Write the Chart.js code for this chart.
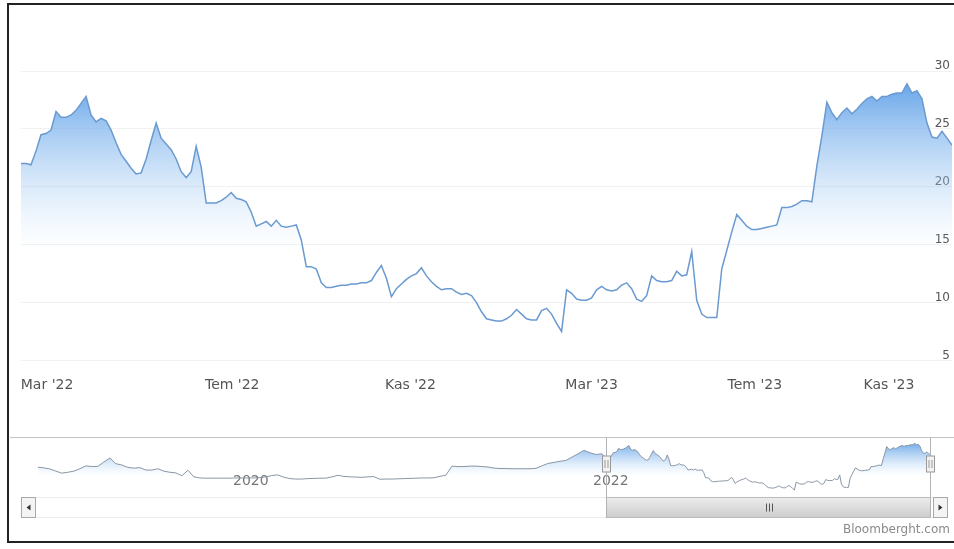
<!DOCTYPE html>
<html>
<head>
<meta charset="utf-8">
<script src="https://cdn.jsdelivr.net/npm/chart.js@4.4.0/dist/chart.umd.min.js"></script>
<style>
html, body { margin: 0; padding: 0; background: #fff; }
body { width: 954px; height: 549px; position: relative; overflow: hidden; font-family: 'DejaVu Sans', sans-serif; }
#frame { position: absolute; left: 7px; top: 3px; width: 960px; height: 536px; border: 2px solid #222; border-right: none; }
#main { position: absolute; left: 0; top: 50px; }
#nav { position: absolute; left: 0; top: 430px; }
#credit { position: absolute; right: 4px; top: 522px; font-size: 12px; color: #8a8a8a; }
</style>
</head>
<body>
<div id="frame"></div>
<canvas id="main" width="954" height="360"></canvas>
<canvas id="nav" width="954" height="119"></canvas>
<div id="credit">Bloomberght.com</div>
<script>
// selected range, sampled evenly (Mar '22 .. Dec '23)
var mainValues = [
  22.0, 22.0, 21.9, 23.1, 24.5, 24.6, 24.9, 26.5, 26.0, 26.0,
  26.2, 26.6, 27.2, 27.8, 26.2, 25.6, 25.9, 25.7, 24.9, 23.8,
  22.8, 22.2, 21.6, 21.1, 21.2, 22.4, 24.0, 25.5, 24.2, 23.7,
  23.2, 22.4, 21.3, 20.8, 21.3, 23.5, 21.7, 18.6, 18.6, 18.6,
  18.8, 19.1, 19.5, 19.0, 18.9, 18.7, 17.8, 16.6, 16.8, 17.0,
  16.6, 17.1, 16.6, 16.5, 16.6, 16.7, 15.4, 13.1, 13.1, 12.9,
  11.7, 11.3, 11.3, 11.4, 11.5, 11.5, 11.6, 11.6, 11.7, 11.7,
  11.9, 12.6, 13.2, 12.1, 10.5, 11.2, 11.6, 12.0, 12.3, 12.5,
  13.0, 12.3, 11.8, 11.4, 11.1, 11.2, 11.2, 10.9, 10.7, 10.8,
  10.6, 10.0, 9.2, 8.6, 8.5, 8.4, 8.4, 8.6, 8.9, 9.4,
  9.0, 8.6, 8.5, 8.5, 9.3, 9.5, 9.0, 8.2, 7.5, 11.1,
  10.8, 10.3, 10.2, 10.2, 10.4, 11.1, 11.4, 11.1, 11.0, 11.1,
  11.5, 11.7, 11.2, 10.3, 10.1, 10.6, 12.3, 11.9, 11.8, 11.8,
  11.9, 12.7, 12.3, 12.4, 14.4, 10.2, 9.0, 8.7, 8.7, 8.7,
  12.9, 14.5, 16.1, 17.6, 17.1, 16.6, 16.3, 16.3, 16.4, 16.5,
  16.6, 16.7, 18.2, 18.2, 18.3, 18.5, 18.8, 18.8, 18.7, 21.8,
  24.4, 27.3, 26.4, 25.8, 26.4, 26.8, 26.3, 26.7, 27.2, 27.6,
  27.8, 27.4, 27.8, 27.8, 28.0, 28.1, 28.1, 28.9, 28.1, 28.3,
  27.6, 25.5, 24.3, 24.2, 24.8, 24.2, 23.6
];
var monthLabels = ["Mar '22", "Tem '22", "Kas '22", "Mar '23", "Tem '23", "Kas '23"];
var monthAt = [5.2, 42.2, 77.8, 114, 146.6, 173.4];   // position in mainValues
var yTicks = [5, 10, 15, 20, 25, 30];

// full history for the navigator, two weeks apart
var histValues = [
  17.9, 17.6, 17.1, 16.1, 15.2, 15.6, 16.1, 17.2, 18.5, 18.2,
  18.3, 20.3, 22.1, 19.5, 18.9, 17.8, 17.5, 17.7, 16.6, 16.6,
  17.2, 16.1, 15.6, 15.3, 14.0, 16.5, 13.5, 13.0, 12.9, 12.9,
  12.9, 12.9, 12.9, 13.0, 13.0, 13.0, 13.0, 13.2, 13.5, 14.1,
  14.4, 13.3, 12.7, 12.5, 12.5, 12.7, 12.8, 12.9, 12.9, 13.5,
  14.2, 13.7, 13.5, 13.4, 13.3, 13.5, 13.6, 12.4, 12.5, 12.5,
  12.6, 12.7, 12.8, 12.9, 13.0, 13.0, 13.1, 13.7, 14.3, 18.4,
  18.2, 18.2, 18.4, 18.4, 18.2, 18.0, 17.5, 17.3, 17.3, 17.2,
  17.2, 17.2, 17.2, 17.4, 18.5, 19.6, 20.1, 20.6, 21.0, 22.5,
  24.0, 25.6, 24.5, 23.7, 24.0
];
var histStart = 2018.933, histStep = 1 / 30;
var mainStart = 2022.09, mainEnd = 2023.89;
var navYears = [2020, 2022];

function fillGrad(top, bottom, alpha) {
  return function (ctx) {
    var ch = ctx.chart;
    if (!ch.chartArea) return 'rgba(0,0,0,0)';
    var y = ch.scales.y;
    var g = ch.ctx.createLinearGradient(0, y.getPixelForValue(top), 0, y.getPixelForValue(bottom));
    g.addColorStop(0, 'rgba(95,160,232,' + alpha + ')');
    g.addColorStop(1, 'rgba(190,220,248,0)');
    return g;
  };
}

var MAIN = new Chart(document.getElementById('main'), {
  type: 'line',
  data: {
    datasets: [{
      data: mainValues.map((v, i) => ({ x: i, y: v })),
      borderColor: '#6a9ad0',
      borderWidth: 1.5,
      pointRadius: 0,
      fill: 'start',
      backgroundColor: fillGrad(29, 14.5, 0.95)
    }]
  },
  options: {
    responsive: false,
    animation: false,
    layout: { padding: { left: 21, right: 2, top: 21, bottom: 10 } },
    plugins: { legend: { display: false }, tooltip: { enabled: false } },
    scales: {
      x: {
        type: 'linear', min: 0, max: mainValues.length - 1,
        afterBuildTicks: s => { s.ticks = monthAt.map(v => ({ value: v })); },
        afterFit: s => { s.height = 28; },
        grid: { display: false, drawTicks: false }, border: { display: false },
        ticks: {
          autoSkip: false, maxRotation: 0, padding: 5,
          color: '#555', font: { family: 'DejaVu Sans', size: 14 },
          callback: (v, i) => monthLabels[i]
        }
      },
      y: {
        position: 'right', min: 4, max: 30, z: 1,
        afterBuildTicks: s => { s.ticks = yTicks.map(v => ({ value: v })); },
        afterFit: s => { s.width = 0; },
        grid: { color: '#f1f1f1', drawTicks: false }, border: { display: false },
        ticks: {
          mirror: true, padding: -2, labelOffset: -5,
          color: '#555', font: { family: 'DejaVu Sans', size: 12 }
        }
      }
    }
  }
});

var navExtras = {
  id: 'navExtras',
  afterDraw(chart) {
    var c = chart.ctx, a = chart.chartArea, sx = chart.scales.x;
    var xs = Math.round(sx.getPixelForValue(mainStart)) + 0.5;
    var xe = Math.round(sx.getPixelForValue(mainEnd)) + 0.5;
    var top = a.top - 2.5, sbTop = a.bottom + 5.5, sbH = 20;
    var mid = (a.top + a.bottom) / 2 - 2;
    c.save();
    // scrollbar track and thumb
    c.strokeStyle = '#ececec';
    c.strokeRect(21.5, sbTop, 926, sbH);
    var g = c.createLinearGradient(0, sbTop, 0, sbTop + sbH);
    g.addColorStop(0, '#ececec'); g.addColorStop(1, '#cdcdcd');
    c.fillStyle = g;
    c.fillRect(xs, sbTop, xe - xs, sbH);
    c.strokeStyle = '#bbbbbb';
    c.strokeRect(xs, sbTop, xe - xs, sbH);
    var cx = Math.round((xs + xe) / 2) + 0.5;
    c.strokeStyle = '#555';
    [-3, 0, 3].forEach(d => { c.beginPath(); c.moveTo(cx + d, sbTop + 6); c.lineTo(cx + d, sbTop + 14); c.stroke(); });
    // buttons
    [[21.5, -1], [933.5, 1]].forEach(function (b) {
      c.fillStyle = '#f4f4f4'; c.strokeStyle = '#a8a8a8';
      c.fillRect(b[0], sbTop, 14, sbH); c.strokeRect(b[0], sbTop, 14, sbH);
      var bx = b[0] + 7, by = sbTop + sbH / 2;
      c.fillStyle = '#333';
      c.beginPath(); c.moveTo(bx - 2 * b[1], by - 3); c.lineTo(bx + 2 * b[1], by); c.lineTo(bx - 2 * b[1], by + 3); c.fill();
    });
    // outline
    c.strokeStyle = '#c4c4c4';
    c.beginPath(); c.moveTo(10, top); c.lineTo(954, top); c.stroke();
    c.strokeStyle = '#b2b1b6';
    [xs, xe].forEach(x => { c.beginPath(); c.moveTo(x, top); c.lineTo(x, sbTop + sbH); c.stroke(); });
    // handles
    [xs, xe].forEach(function (x) {
      c.fillStyle = '#f2f2f2'; c.strokeStyle = '#999';
      c.fillRect(x - 4, mid - 8, 8, 16); c.strokeRect(x - 4, mid - 8, 8, 16);
      c.beginPath(); c.moveTo(x - 1.5, mid - 4); c.lineTo(x - 1.5, mid + 4);
      c.moveTo(x + 1.5, mid - 4); c.lineTo(x + 1.5, mid + 4); c.stroke();
    });
    c.restore();
  }
};

var navData = histValues.map((v, i) => ({ x: histStart + i * histStep, y: v }))
  .concat(mainValues.map((v, i) => ({ x: mainStart + i * (mainEnd - mainStart) / (mainValues.length - 1), y: v })));

var NAV = new Chart(document.getElementById('nav'), {
  type: 'line',
  data: {
    datasets: [{
      data: navData,
      borderColor: '#8a96a3',
      borderWidth: 1,
      pointRadius: 0,
      fill: 'start',
      backgroundColor: fillGrad(29, 14, 0.9)
    }]
  },
  options: {
    responsive: false,
    animation: false,
    layout: { padding: { left: 35, right: 23, top: 10, bottom: 57 } },
    plugins: { legend: { display: false }, tooltip: { enabled: false } },
    scales: {
      x: {
        type: 'linear', min: 2018.917, max: 2023.894, z: 1,
        afterBuildTicks: s => { s.ticks = navYears.map(v => ({ value: v })); },
        afterFit: s => { s.height = 0; },
        grid: { display: false, drawTicks: false }, border: { display: false },
        ticks: {
          autoSkip: false, maxRotation: 0, mirror: true, align: 'start', labelOffset: 3, padding: 2,
          color: '#777', font: { family: 'DejaVu Sans', size: 14 },
          callback: v => String(v)
        }
      },
      y: { display: false, min: 6.6, max: 30.3 }
    }
  },
  plugins: [navExtras]
});
</script>
</body>
</html>
